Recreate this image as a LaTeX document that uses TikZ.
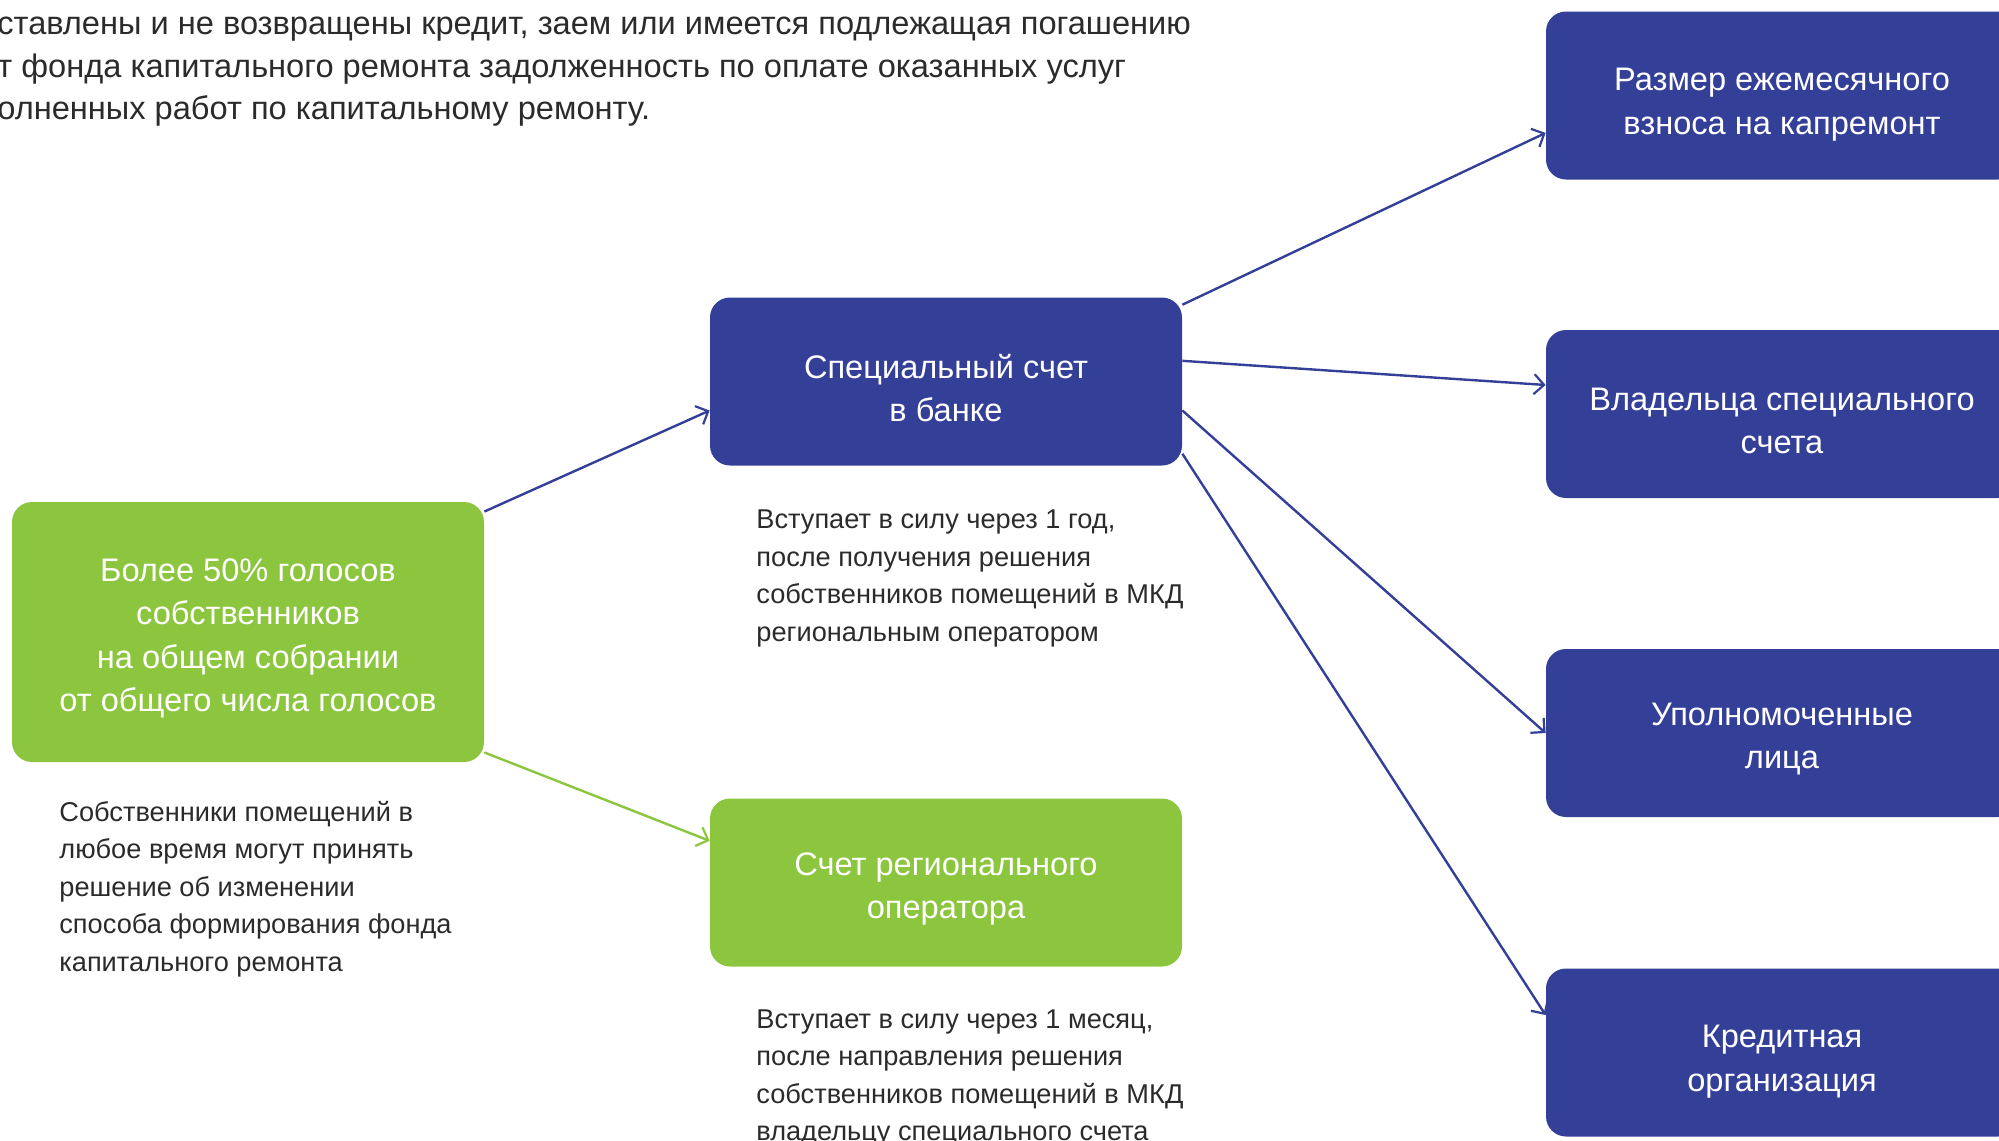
\documentclass[tikz,border=0pt]{standalone}
\usepackage{fontspec}
\setmainfont{Liberation Sans}
\usetikzlibrary{arrows.meta}
\definecolor{cblue}{HTML}{343F97}
\definecolor{cgreen}{HTML}{8CC63F}
\definecolor{ctext}{HTML}{2B2B2B}
\tikzset{
  box/.style={rounded corners=10pt, minimum width=236pt, minimum height=84pt, inner sep=0pt},
  bluebox/.style={box, fill=cblue},
  greenbox/.style={box, fill=cgreen},
  boxtext/.style={align=center, text=white, font=\fontsize{16.3}{21.7}\selectfont, inner sep=0pt},
  note/.style={align=left, text=ctext, anchor=north west, inner sep=0pt, font=\fontsize{13.6}{18.8}\selectfont},
  conn/.style={line width=1.2pt, -{Straight Barb[length=5pt,width=10pt,line width=1.1pt]}},
}
\begin{document}
\begin{tikzpicture}[x=0.5pt,y=-0.5pt]
\useasboundingbox (0,0) rectangle (1999,1141);
\begin{scope}
\clip (0,0) rectangle (1999,1141);
\node[align=left, text=ctext, anchor=north west, inner sep=0pt, font=\fontsize{16.3}{21.3}\selectfont] (top) at (-3,16.5)
 {ставлены и не возвращены кредит, заем или имеется подлежащая погашению\\
  т фонда капитального ремонта задолженность по оплате оказанных услуг\\
  олненных работ по капитальному ремонту.};

\node[greenbox, minimum height=130pt] (g) at (248,632) {};
\node[bluebox] (sp) at (946,381.5) {};
\node[greenbox] (rg) at (946,882.5) {};
\node[bluebox] (b1) at (1782,95.5) {};
\node[bluebox] (b2) at (1782,414) {};
\node[bluebox] (b3) at (1782,733) {};
\node[bluebox] (b4) at (1782,1052.5) {};

\node[boxtext] (gt) at ([yshift=-3.2pt]g.center) {Более 50\% голосов\\собственников\\на общем собрании\\от общего числа голосов};
\node[boxtext] (spt) at ([yshift=-3.2pt]sp.center) {Специальный счет\\в банке};
\node[boxtext] (rgt) at ([yshift=-3.2pt]rg.center) {Счет регионального\\оператора};
\node[boxtext] (b1t) at ([yshift=-4.5pt]b1.center) {Размер ежемесячного\\взноса на капремонт};
\node[boxtext] (b2t) at ([yshift=-3.5pt]b2.center) {Владельца специального\\счета};
\node[boxtext] (b3t) at ([yshift=-3pt]b3.center) {Уполномоченные\\лица};
\node[boxtext] (b4t) at ([yshift=-4.5pt]b4.center) {Кредитная\\организация};

\node[note] (n1) at (756,509.5) {Вступает в силу через 1 год,\\после получения решения\\собственников помещений в МКД\\региональным оператором};
\node[note] (n2) at (59,800.5) {Собственники помещений в\\любое время могут принять\\решение об изменении\\способа формирования фонда\\капитального ремонта};
\node[note] (n3) at (756,1009) {Вступает в силу через 1 месяц,\\после направления решения\\собственников помещений в МКД\\владельцу специального счета};

\draw[conn, cblue] (g.27.3) -- (sp.187.8);
\draw[conn, cgreen] (g.-27.3) -- (rg.170.5);
\draw[conn, cblue] (sp.18) -- (b1.189.3);
\draw[conn, cblue] (sp.5) -- (b2.173);
\draw[conn, cblue] (sp.-7.6) -- (b3.180);
\draw[conn, cblue] (sp.-17.6) -- (b4.171.2);
\end{scope}
\end{tikzpicture}
\end{document}
